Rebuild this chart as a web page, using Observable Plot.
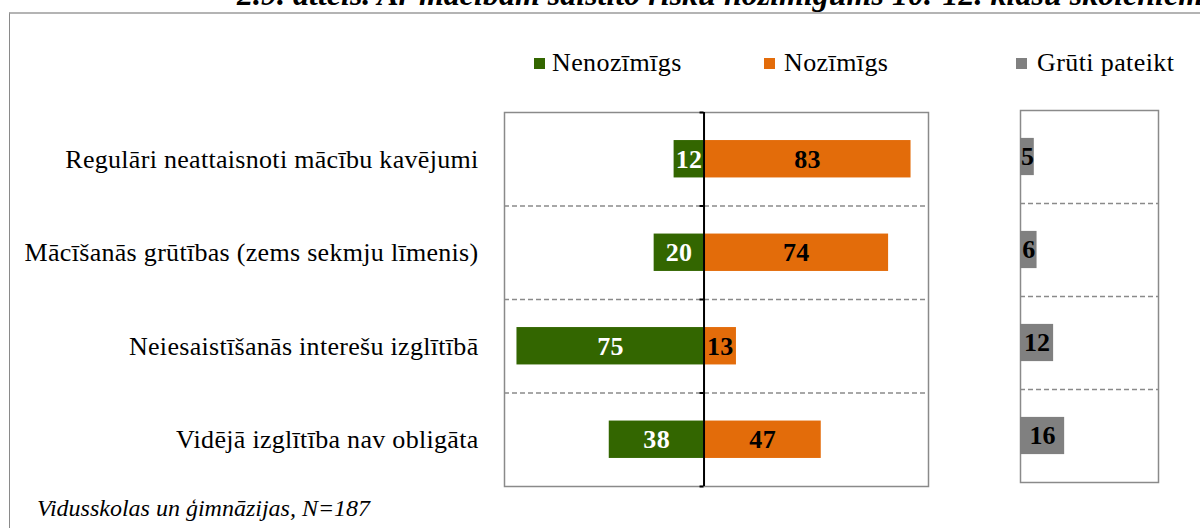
<!DOCTYPE html>
<html>
<head>
<meta charset="utf-8">
<script src="https://cdn.jsdelivr.net/npm/d3@7"></script>
<script src="https://cdn.jsdelivr.net/npm/@observablehq/plot@0.6"></script>
<style>
  body { margin: 0; background: white; }
  #wrap { position: relative; width: 1200px; height: 528px; overflow: hidden; background: white; font-family: "Liberation Serif", "Times New Roman", serif; color: #000; }
  .abs { position: absolute; }
  #wrap svg { position: absolute; left: 0; top: 0; }
  .sw { position: absolute; width: 11px; height: 11px; }
  .lg { position: absolute; font-size: 26px; line-height: 26px; letter-spacing: 0.4px; white-space: nowrap; }
</style>
</head>
<body>
<div id="wrap">
  <div class="abs" style="left:9px; top:12px; width:1300px; height:700px; border-top:2px solid #b4b4b4; border-left:1px solid #8a8a8a;"></div>
  <div class="abs" id="title" style="left:237px; top:-18px; font-size:32px; line-height:24px; font-weight:bold; font-style:italic; white-space:nowrap;"></div>
  <div id="legend"></div>
  <div class="abs" id="note" style="left:37px; top:496px; font-size:24px; line-height:24px; font-style:italic; white-space:nowrap;"></div>
</div>
<script>
const title = "2.9. attēls. Ar mācībām saistīto risku nozīmīgums 10.-12. klašu skolēniem";
const note = "Vidusskolas un ģimnāzijas, N=187";
const categories = [
  "Regulāri neattaisnoti mācību kavējumi",
  "Mācīšanās grūtības (zems sekmju līmenis)",
  "Neiesaistīšanās interešu izglītībā",
  "Vidējā izglītība nav obligāta"
];
const seriesNames = ["Nenozīmīgs", "Nozīmīgs", "Grūti pateikt"];
const nenozimigs = [12, 20, 75, 38];
const nozimigs = [83, 74, 13, 47];
const gruti = [5, 6, 12, 16];
const colors = ["#336600", "#e36c0a", "#808080"];

const rows = categories.map((c, i) => ({cat: c, i, neg: nenozimigs[i], pos: nozimigs[i], gr: gruti[i]}));
const font = "'Liberation Serif', 'Times New Roman', serif";

document.getElementById("title").textContent = title;
document.getElementById("note").textContent = note;

// legend
const legend = document.getElementById("legend");
const legPos = [[534, 552], [764, 784], [1016, 1037]];
seriesNames.forEach((s, k) => {
  const sw = document.createElement("div");
  sw.className = "sw";
  sw.style.left = legPos[k][0] + "px";
  sw.style.top = "58px";
  sw.style.background = colors[k];
  legend.appendChild(sw);
  const t = document.createElement("div");
  t.className = "lg";
  t.style.left = legPos[k][1] + "px";
  t.style.top = "50px";
  t.textContent = s;
  legend.appendChild(t);
});

const wrap = document.getElementById("wrap");

const left = Plot.plot({
  width: 1200, height: 528,
  marginLeft: 504, marginRight: 272, marginTop: 112, marginBottom: 42,
  style: {background: "transparent", fontFamily: font, overflow: "visible", letterSpacing: "0.3px"},
  x: {domain: [-80, 90], axis: null},
  y: {domain: [0, 4], reverse: true, axis: null},
  marks: [
    Plot.frame({stroke: "#8a8a8a", strokeWidth: 1.5}),
    Plot.ruleY([1, 2, 3], {stroke: "#8a8a8a", strokeWidth: 1.5, strokeDasharray: "5,3"}),
    Plot.rectX(rows, {x1: 0, x2: d => -d.neg, y1: d => d.i + 0.3, y2: d => d.i + 0.7, fill: colors[0]}),
    Plot.rectX(rows, {x1: 0, x2: d => d.pos, y1: d => d.i + 0.3, y2: d => d.i + 0.7, fill: colors[1]}),
    Plot.ruleX([0], {stroke: "black", strokeWidth: 2}),
    Plot.ruleY([0, 1, 2, 3, 4], {x1: -1.6, x2: 0, stroke: "black", strokeWidth: 2}),
    Plot.text(rows, {x: d => -d.neg / 2, y: d => d.i + 0.5, text: d => String(d.neg), fill: "white", fontWeight: "bold", fontSize: 26}),
    Plot.text(rows, {x: d => d.pos / 2, y: d => d.i + 0.5, text: d => String(d.pos), fill: "black", fontWeight: "bold", fontSize: 26}),
    Plot.axisY({ticks: [0.5, 1.5, 2.5, 3.5], tickFormat: v => categories[Math.floor(v)], tickSize: 0, tickPadding: 26, fontSize: 26, fill: "black"})
  ]
});
wrap.appendChild(left);

const right = Plot.plot({
  width: 1200, height: 528,
  marginLeft: 1020, marginRight: 42, marginTop: 110, marginBottom: 46,
  style: {background: "transparent", fontFamily: font, overflow: "visible"},
  x: {domain: [0, 50], axis: null},
  y: {domain: [0, 4], reverse: true, axis: null},
  marks: [
    Plot.frame({stroke: "#8a8a8a", strokeWidth: 1.5}),
    Plot.ruleY([1, 2, 3], {stroke: "#8a8a8a", strokeWidth: 1.5, strokeDasharray: "5,3"}),
    Plot.rectX(rows, {x1: 0, x2: d => d.gr, y1: d => d.i + 0.3, y2: d => d.i + 0.7, fill: colors[2]}),
    Plot.text(rows, {x: d => d.gr / 2, y: d => d.i + 0.5, text: d => String(d.gr), fill: "black", fontWeight: "bold", fontSize: 26})
  ]
});
wrap.appendChild(right);
</script>
</body>
</html>
